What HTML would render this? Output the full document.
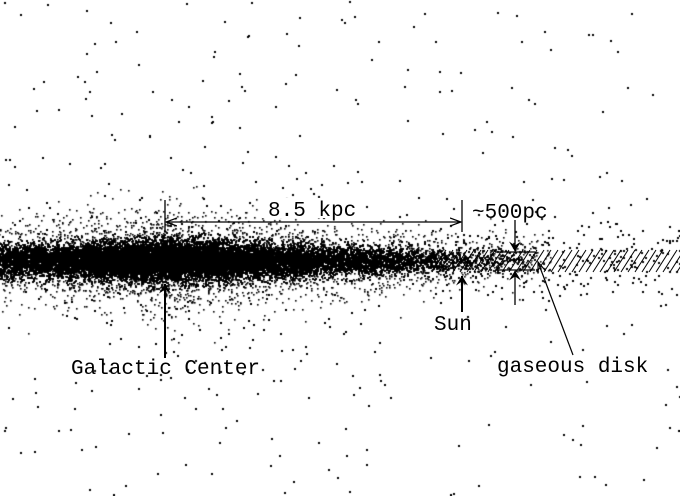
<!DOCTYPE html>
<html><head><meta charset="utf-8"><style>
html,body{margin:0;padding:0;background:#fff;}
#wrap{position:relative;width:680px;height:496px;overflow:hidden;}
canvas,svg{position:absolute;left:0;top:0;}
text{font-family:"Liberation Mono","DejaVu Sans Mono",monospace;font-size:21px;fill:#000;}
</style></head><body>
<div id="wrap">
<canvas id="stars" width="680" height="496"></canvas>
<svg width="680" height="496">
<defs>
<marker id="open" viewBox="0 0 12 10" refX="11" refY="5" markerWidth="12" markerHeight="10" orient="auto" markerUnits="userSpaceOnUse"><path d="M0,1 L11,5 L0,9" fill="none" stroke="#000" stroke-width="1.2"/></marker>
<marker id="solid" viewBox="0 0 10 14" refX="9.5" refY="7" markerWidth="10" markerHeight="14" orient="auto" markerUnits="userSpaceOnUse"><path d="M0,1 L10,7 L0,13 L4,7 Z" fill="#000"/></marker>
</defs>
<g id="hatch" stroke="#000" stroke-width="1"></g>
<g stroke="#000" stroke-width="1.3" fill="none">
<line x1="165" y1="200" x2="165" y2="232"/>
<line x1="462" y1="200" x2="462" y2="232"/>
<line x1="300" y1="222" x2="166" y2="222" marker-end="url(#open)"/>
<line x1="300" y1="222" x2="461" y2="222" marker-end="url(#open)"/>
</g>
<rect x="262" y="198" width="96" height="20" fill="#fff"/>
<text x="268" y="216">8.5 kpc</text>
<text x="472" y="218">~500pc</text>
<g stroke="#000" stroke-width="1.3" fill="none">
<line x1="515" y1="220" x2="515" y2="251" marker-end="url(#solid)"/>
<line x1="495" y1="252" x2="535" y2="252"/>
<line x1="495" y1="270" x2="535" y2="270"/>
<line x1="515" y1="305" x2="515" y2="271" marker-end="url(#solid)"/>
</g>
<g stroke="#000" stroke-width="2" fill="none">
<line x1="462" y1="312" x2="462" y2="276" marker-end="url(#solid)"/>
</g>
<text x="434" y="330">Sun</text>
<g stroke="#000" stroke-width="2" fill="none">
<line x1="165" y1="358" x2="165" y2="284" marker-end="url(#solid)"/>
</g>
<text x="71" y="374">Galactic Center</text>
<g stroke="#000" stroke-width="1.2" fill="none">
<line x1="573" y1="355" x2="538" y2="262" marker-end="url(#open)"/>
</g>
<text x="497" y="372">gaseous disk</text>
</svg>
</div>
<script>
var hatchStart = 432, hatchEnd = 684, hatchStep = 7;
var hg = document.getElementById('hatch');
for (var x = hatchStart; x < hatchEnd; x += hatchStep) {
  var l = document.createElementNS('http://www.w3.org/2000/svg','line');
  l.setAttribute('x1', x); l.setAttribute('y1', 272);
  l.setAttribute('x2', x + 14); l.setAttribute('y2', 250);
  
  
  hg.appendChild(l);
}
var seed = 12345;
function rnd(){
  seed = (seed + 0x6D2B79F5) | 0;
  var t = Math.imul(seed ^ (seed >>> 15), 1 | seed);
  t = (t + Math.imul(t ^ (t >>> 7), 61 | t)) ^ t;
  return ((t ^ (t >>> 14)) >>> 0) / 4294967296;
}
function gauss(){ var u=rnd()||1e-6, v=rnd(); return Math.sqrt(-2*Math.log(u))*Math.cos(2*Math.PI*v); }
var c = document.getElementById('stars').getContext('2d');
c.fillStyle = '#000';
function dot(x,y,s){ c.fillRect(Math.round(x), Math.round(y), s, s); }
var cx = 165, cy = 260;
// dense core band
for (var i=0;i<32000;i++){
  var x = -20 + rnd()*560;
  var d = Math.abs(x-cx);
  var keep = Math.exp(-d/150);
  if (x>380) keep *= Math.max(0,(540-x)/160);
  if (rnd()>keep) continue;
  var sig = 10 - d*0.015;
  if (sig<4) sig=4;
  dot(x, cy + gauss()*sig, 2);
}
// thick disk
for (var i=0;i<8000;i++){
  var x = -10 + rnd()*560;
  var d = Math.abs(x-cx);
  if (rnd()>Math.exp(-d/200)) continue;
  dot(x, cy + gauss()*(24 - d*0.03), 1.6);
}
// outer halo
for (var i=0;i<1800;i++){
  var x = rnd()*680, y = rnd()*496;
  var d = Math.hypot((x-cx)*0.9, (y-cy)*1.3);
  if (rnd()>Math.min(1, 60/(d+20))) continue;
  dot(x, y, 2);
}
for (var i=0;i<250;i++){
  var x = 430 + rnd()*250;
  dot(x, cy + gauss()*18, 2);
}
</script>
</body></html>
